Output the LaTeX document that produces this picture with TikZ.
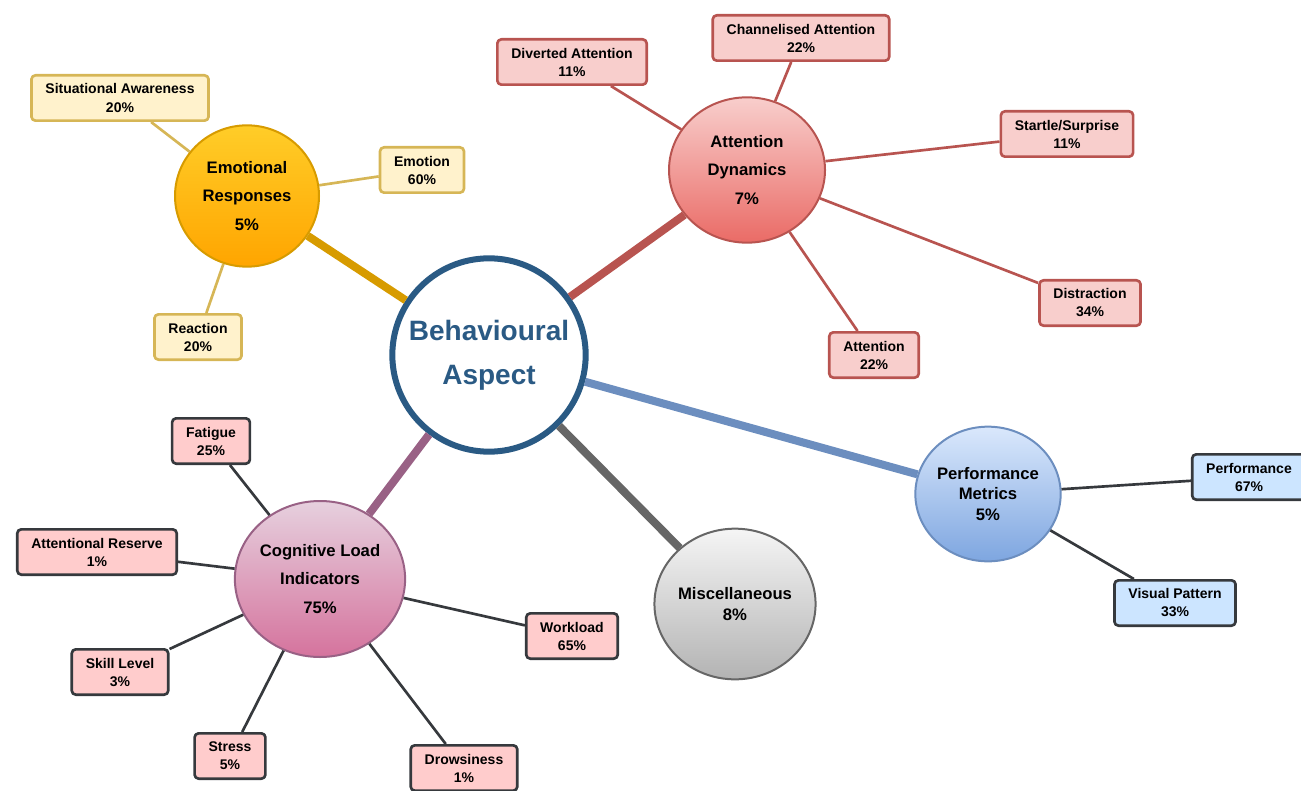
\documentclass[tikz,border=0pt]{standalone}
\usepackage{fontspec}
\setmainfont{Liberation Sans}
\usetikzlibrary{shapes.geometric}
\definecolor{bacol}{HTML}{2A5A84}
\definecolor{emotop}{HTML}{FFCD28}\definecolor{emobot}{HTML}{FFA500}\definecolor{emoline}{HTML}{D79B00}
\definecolor{emofill}{HTML}{FFF2CC}\definecolor{emotwig}{HTML}{D6B656}
\definecolor{atttop}{HTML}{F8CECC}\definecolor{attbot}{HTML}{EA6B66}\definecolor{attline}{HTML}{B85450}
\definecolor{perftop}{HTML}{DAE8FC}\definecolor{perfbot}{HTML}{7EA6E0}\definecolor{perfline}{HTML}{6C8EBF}
\definecolor{perffill}{HTML}{CCE5FF}\definecolor{darkline}{HTML}{36393D}
\definecolor{misctop}{HTML}{F5F5F5}\definecolor{miscbot}{HTML}{B3B3B3}\definecolor{miscline}{HTML}{666666}
\definecolor{cogtop}{HTML}{E6D0DE}\definecolor{cogbot}{HTML}{D5739D}\definecolor{cogline}{HTML}{996185}
\definecolor{cogfill}{HTML}{FFCCCC}
\begin{document}
\begin{tikzpicture}[x=0.75pt, y=-0.75pt, line join=round, line cap=round,
	hub/.style={ellipse, draw, line width=1.5pt, align=center, inner sep=0pt, font=\fontsize{12.5}{21.5}\selectfont\bfseries},
	tighthub/.style={hub, font=\fontsize{12.5}{15.5}\selectfont\bfseries},
	leaf/.style={draw, rounded corners=3pt, line width=2pt, align=center, inner xsep=10.5pt, inner ysep=2pt, minimum height=34pt, font=\fontsize{10.5}{13.5}\selectfont\bfseries},
	spoke/.style={line width=6pt, line cap=butt},
	twig/.style={line width=2pt, line cap=butt}]
	\useasboundingbox (0,0) rectangle (1301,791);
	\node[circle, draw=bacol, line width=4.5pt, minimum size=145pt, text=bacol, align=center, font=\fontsize{21}{33}\selectfont\bfseries] (ba) at (489,355) {Behavioural\\Aspect};
	\node[hub, top color=emotop, bottom color=emobot, draw=emoline, minimum width=108pt, minimum height=106pt] (emo) at (247,196) {Emotional\\Responses\\5\%};
	\node[hub, top color=atttop, bottom color=attbot, draw=attline, minimum width=117pt, minimum height=109pt] (att) at (747,170) {Attention\\Dynamics\\7\%};
	\node[tighthub, top color=perftop, bottom color=perfbot, draw=perfline, minimum width=109pt, minimum height=101pt] (perf) at (988,494) {Performance\\Metrics\\5\%};
	\node[tighthub, top color=misctop, bottom color=miscbot, draw=miscline, minimum width=108pt, minimum height=113pt] (misc) at (735,604) {Miscellaneous\\8\%};
	\node[hub, top color=cogtop, bottom color=cogbot, draw=cogline, minimum width=117pt, minimum height=117pt] (cog) at (320,579) {Cognitive Load\\Indicators\\75\%};
	\draw[spoke, emoline] (ba) -- (emo);
	\draw[spoke, attline] (ba) -- (att);
	\draw[spoke, perfline] (ba) -- (perf);
	\draw[spoke, miscline] (ba) -- (misc);
	\draw[spoke, cogline] (ba) -- (cog);
	\foreach \nm/\x/\y/\txt/\pc in {sit/120/98/Situational Awareness/20, emotion/422/170/Emotion/60, react/198/337/Reaction/20}
	{\node[leaf, fill=emofill, draw=emotwig] (\nm) at (\x,\y) {\txt\\\pc\%};
	\draw[twig, emotwig] (emo) -- (\nm);}
	\foreach \nm/\x/\y/\txt/\pc in {divert/572/62/Diverted Attention/11, chan/801/38/Channelised Attention/22, startle/1067/134/{Startle/Surprise}/11, distr/1090/303/Distraction/34, attn/874/355/Attention/22}
	{\node[leaf, fill=atttop, draw=attline] (\nm) at (\x,\y) {\txt\\\pc\%};
	\draw[twig, attline] (att) -- (\nm);}
	\foreach \nm/\x/\y/\txt/\pc in {perfm/1249/477/Performance/67, visual/1175/603/Visual Pattern/33}
	{\node[leaf, fill=perffill, draw=darkline] (\nm) at (\x,\y) {\txt\\\pc\%};
	\draw[twig, darkline] (perf) -- (\nm);}
	\foreach \nm/\x/\y/\txt/\pc in {fatigue/211/441/Fatigue/25, reserve/97/552/Attentional Reserve/1, skill/120/672/Skill Level/3, stress/230/756/Stress/5, drowsy/464/768/Drowsiness/1, workload/572/636/Workload/65}
	{\node[leaf, fill=cogfill, draw=darkline] (\nm) at (\x,\y) {\txt\\\pc\%};
	\draw[twig, darkline] (cog) -- (\nm);}
\end{tikzpicture}
\end{document}
